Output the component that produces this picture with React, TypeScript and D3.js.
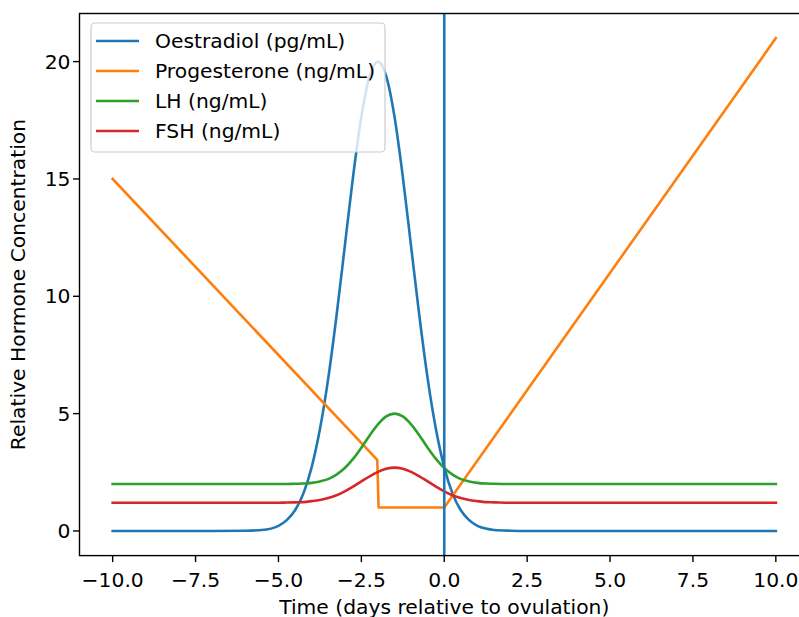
import React from 'react';
import * as d3 from 'd3';

// sampled days (x) shared by the smooth hormone curves
const days = [-10, -9, -8, -7, -6, -5.5, -5, -4.75, -4.5, -4.25, -4, -3.75, -3.5, -3.25, -3, -2.75, -2.5, -2.25, -2, -1.75, -1.5, -1.25, -1, -0.75, -0.5, -0.25, 0, 0.25, 0.5, 0.75, 1, 1.25, 1.5, 2, 2.5, 3, 4, 5, 6, 7, 8, 9, 10];

const oestradiol = [0, 0, 0, 0, 0.01, 0.04, 0.22, 0.46, 0.88, 1.59, 2.71, 4.33, 6.49, 9.16, 12.13, 15.1, 17.65, 19.38, 20, 19.38, 17.65, 15.1, 12.13, 9.16, 6.49, 4.33, 2.71, 1.59, 0.88, 0.46, 0.22, 0.1, 0.04, 0.01, 0, 0, 0, 0, 0, 0, 0, 0, 0];
const lh = [2, 2, 2, 2, 2, 2, 2, 2, 2.01, 2.02, 2.05, 2.11, 2.21, 2.4, 2.68, 3.07, 3.55, 4.07, 4.54, 4.88, 5, 4.88, 4.54, 4.07, 3.55, 3.07, 2.68, 2.4, 2.21, 2.11, 2.05, 2.02, 2.01, 2, 2, 2, 2, 2, 2, 2, 2, 2, 2];
const fsh = [1.2, 1.2, 1.2, 1.2, 1.2, 1.2, 1.2, 1.21, 1.22, 1.23, 1.27, 1.32, 1.4, 1.52, 1.69, 1.89, 2.11, 2.33, 2.52, 2.65, 2.7, 2.65, 2.52, 2.33, 2.11, 1.89, 1.69, 1.52, 1.4, 1.32, 1.27, 1.23, 1.22, 1.2, 1.2, 1.2, 1.2, 1.2, 1.2, 1.2, 1.2, 1.2, 1.2];

// progesterone is piecewise linear
const progDays = [-10, -2.02, -1.98, 0, 10];
const progesterone = [15, 3.03, 1, 1, 21];

const xTicks = [-10, -7.5, -5, -2.5, 0, 2.5, 5, 7.5, 10];
const yTicks = [0, 5, 10, 15, 20];
const labels = ['Oestradiol (pg/mL)', 'Progesterone (ng/mL)', 'LH (ng/mL)', 'FSH (ng/mL)'];
const colors = ['#1f77b4', '#ff7f0e', '#2ca02c', '#d62728'];

const W = 799;
const H = 617;
const left = 79.5, right = 809, top = 13.5, bottom = 555.6;
const fs = 20.3;

export default function App() {
  const x = d3.scaleLinear().domain([-11, 11]).range([left, right]);
  const y = d3.scaleLinear().domain([-1.05, 22.05]).range([bottom, top]);

  const smooth = d3.line<[number, number]>()
    .x(d => x(d[0]))
    .y(d => y(d[1]))
    .curve(d3.curveMonotoneX);
  const straight = d3.line<[number, number]>()
    .x(d => x(d[0]))
    .y(d => y(d[1]));

  const series = [
    smooth(days.map((d, i) => [d, oestradiol[i]] as [number, number])),
    straight(progDays.map((d, i) => [d, progesterone[i]] as [number, number])),
    smooth(days.map((d, i) => [d, lh[i]] as [number, number])),
    smooth(days.map((d, i) => [d, fsh[i]] as [number, number])),
  ];

  const fmt = (v: number) => (v < 0 ? '\u2212' : '') + Math.abs(v).toFixed(1);
  const font = '"DejaVu Sans", sans-serif';

  return (
    <svg width={W} height={H} style={{ position: 'absolute', left: 0, top: 0, background: '#fff' }} fontFamily={font}>
      <defs>
        <clipPath id="plot">
          <rect x={left} y={top} width={right - left} height={bottom - top} />
        </clipPath>
      </defs>
      <g clipPath="url(#plot)" fill="none" strokeWidth={2.6} strokeLinejoin="round" strokeLinecap="square">
        {series.map((p, i) => (
          <path key={i} d={p || ''} stroke={colors[i]} />
        ))}
        <line x1={x(0)} x2={x(0)} y1={top} y2={bottom} stroke={colors[0]} strokeWidth={2.6} />
      </g>

      {/* spines */}
      <rect x={left} y={top} width={right - left} height={bottom - top} fill="none" stroke="#000" strokeWidth={1.4} />

      {/* x axis */}
      {xTicks.map(t => (
        <g key={t} transform={`translate(${x(t)},${bottom})`}>
          <line y2={6.5} stroke="#000" strokeWidth={1.4} />
          <text y={31.5} textAnchor="middle" fontSize={fs} fill="#000">{fmt(t)}</text>
        </g>
      ))}
      <text x={(left + right) / 2} y={614} textAnchor="middle" fontSize={fs} fill="#000">
        Time (days relative to ovulation)
      </text>

      {/* y axis */}
      {yTicks.map(t => (
        <g key={t} transform={`translate(${left},${y(t)})`}>
          <line x2={-6.5} stroke="#000" strokeWidth={1.4} />
          <text x={-9} dy="0.35em" textAnchor="end" fontSize={fs} fill="#000">{t}</text>
        </g>
      ))}
      <text transform={`translate(25,${(top + bottom) / 2}) rotate(-90)`} textAnchor="middle" fontSize={fs} fill="#000">
        Relative Hormone Concentration
      </text>

      {/* legend */}
      <g>
        <rect x={91} y={23} width={294} height={129} rx={4} fill="#fff" fillOpacity={0.8} stroke="#cccccc" strokeWidth={1.2} />
        {labels.map((l, i) => (
          <g key={l} transform={`translate(96,${41 + i * 30})`}>
            <line x1={0} x2={43} stroke={colors[i]} strokeWidth={2.6} />
            <text x={59} dy="0.36em" fontSize={fs} fill="#000">{l}</text>
          </g>
        ))}
      </g>
    </svg>
  );
}
